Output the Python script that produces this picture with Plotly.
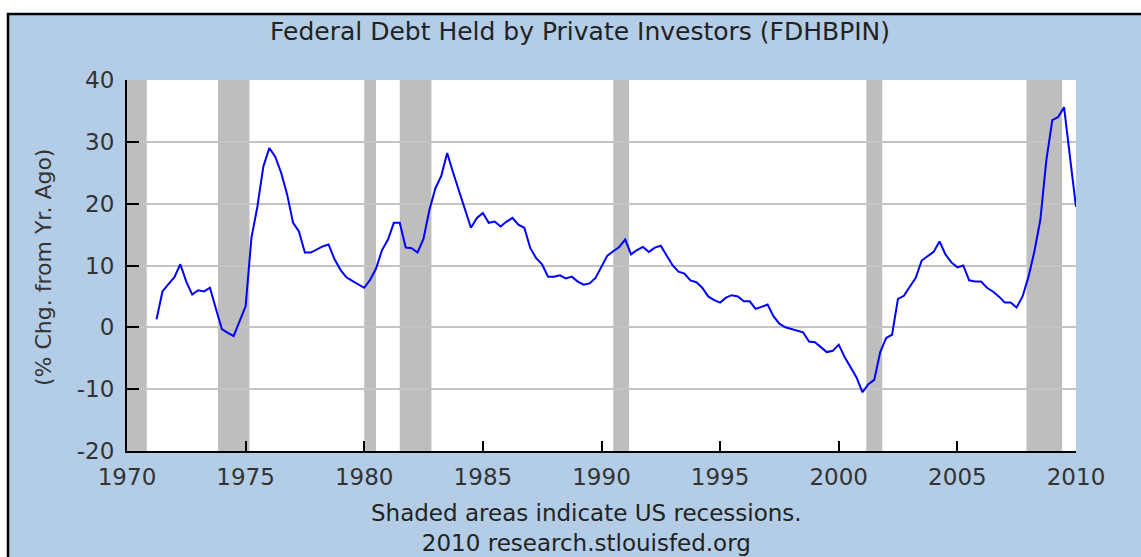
import pandas as pd
import plotly.graph_objects as go

# ---- data (quarterly, % change from a year ago) ----
start_quarter = "1971-04-01"
values = [
    1.3, 5.8, 7.0,
    8.1, 10.2, 7.4, 5.3,
    6.0, 5.8, 6.4, 3.0,
    -0.3, -0.9, -1.4, 1.0,
    3.4, 14.5, 19.5, 26.0,
    29.0, 27.6, 25.0, 21.5,
    16.9, 15.5, 12.1, 12.1,
    12.6, 13.1, 13.4, 11.0,
    9.3, 8.1, 7.5, 6.9,
    6.4, 7.7, 9.5, 12.5,
    14.2, 16.9, 16.9, 12.9,
    12.8, 12.1, 14.3, 19.0,
    22.5, 24.5, 28.2, 25.0,
    22.0, 18.7, 16.1, 17.7,
    18.5, 16.9, 17.1, 16.3,
    17.1, 17.7, 16.6, 16.1,
    12.8, 11.2, 10.2, 8.2,
    8.2, 8.4, 7.9, 8.2,
    7.4, 6.9, 7.1, 8.0,
    9.8, 11.6, 12.3, 13.0,
    14.2, 11.8, 12.5, 13.0,
    12.2, 12.9, 13.2, 11.5,
    10.0, 9.0, 8.7, 7.6,
    7.3, 6.4, 5.0, 4.4,
    4.0, 4.8, 5.2, 5.0,
    4.2, 4.2, 3.0, 3.3,
    3.7, 1.8, 0.6, 0.0,
    -0.3, -0.5, -0.8, -2.3,
    -2.4, -3.2, -4.0, -3.8,
    -2.8, -4.8, -6.5, -8.1,
    -10.5, -9.2, -8.5, -4.0,
    -1.7, -1.2, 4.6, 5.1,
    6.6, 8.0, 10.8, 11.5,
    12.2, 13.9, 11.8, 10.5,
    9.7, 10.0, 7.6, 7.4,
    7.4, 6.4, 5.8, 5.0,
    4.0, 4.0, 3.2, 5.0,
    8.2, 12.3, 17.4, 27.0,
    33.5, 34.0, 35.6, 27.5,
    19.5,
]
dates = pd.date_range(start_quarter, periods=len(values), freq="QS")

recession_starts = ["1969-12-01", "1973-11-01", "1980-01-01", "1981-07-01",
                    "1990-07-01", "2001-03-01", "2007-12-01"]
recession_ends = ["1970-11-01", "1975-03-01", "1980-07-01", "1982-11-01",
                  "1991-03-01", "2001-11-01", "2009-06-01"]

x_range = ["1970-01-01", "2010-01-01"]
y_range = [-20, 40]
y_ticks = [-20, -10, 0, 10, 20, 30, 40]
y_tick_labels = ["-20", "-10", "0", "10", "20", "30", "40"]
x_tick_years = [1970, 1975, 1980, 1985, 1990, 1995, 2000, 2005, 2010]

title_text = "Federal Debt Held by Private Investors (FDHBPIN)"
y_title_text = "(% Chg. from Yr. Ago)"
note_lines = ["Shaded areas indicate US recessions.", "2010 research.stlouisfed.org"]

# ---- layout geometry (page pixels; body margin removed below) ----
W, H = 1141, 557
L, R, T, B = 127, 1076, 80, 451
BG = "#B4CDE6"
FONT = "DejaVu Sans"


def px_x(p):
    return (p - L) / (R - L)


def px_y(p):
    return (B - p) / (B - T)


fig = go.Figure()
fig.add_trace(go.Scatter(
    x=dates, y=values, mode="lines",
    line=dict(color="#0000FF", width=2),
    hoverinfo="x+y", showlegend=False,
))

shapes = []
for s, e in zip(recession_starts, recession_ends):
    shapes.append(dict(type="rect", xref="x", yref="paper", x0=s, x1=e, y0=0, y1=1,
                       fillcolor="#BEBEBE", line=dict(width=0), layer="between"))
# white strips outside the chart frame
shapes.append(dict(type="rect", xref="paper", yref="paper",
                   x0=px_x(-5), x1=px_x(W + 5), y0=px_y(13), y1=px_y(-5),
                   fillcolor="white", line=dict(width=0), layer="below"))
shapes.append(dict(type="rect", xref="paper", yref="paper",
                   x0=px_x(-5), x1=px_x(7), y0=px_y(H + 5), y1=px_y(-5),
                   fillcolor="white", line=dict(width=0), layer="below"))
# black frame lines
shapes.append(dict(type="line", xref="paper", yref="paper",
                   x0=px_x(7), x1=px_x(W + 5), y0=px_y(14), y1=px_y(14),
                   line=dict(color="black", width=2.5)))
shapes.append(dict(type="line", xref="paper", yref="paper",
                   x0=px_x(8), x1=px_x(8), y0=px_y(13), y1=px_y(H + 5),
                   line=dict(color="black", width=2.5)))

annotations = [
    dict(text=title_text, xref="paper", yref="paper", x=px_x(580), y=px_y(31),
         xanchor="center", yanchor="middle", showarrow=False,
         font=dict(family=FONT, size=25, color="#222222")),
    dict(text=y_title_text, xref="paper", yref="paper", x=px_x(43), y=px_y(268),
         xanchor="center", yanchor="middle", showarrow=False, textangle=-90,
         font=dict(family=FONT, size=22, color="#333333")),
    dict(text="<br>".join(note_lines), xref="paper", yref="paper",
         x=px_x(586), y=px_y(528), xanchor="center", yanchor="middle",
         align="center", showarrow=False,
         font=dict(family=FONT, size=23, color="#222222")),
]

fig.update_layout(
    width=W, height=H,
    margin=dict(l=L, r=W - R, t=T, b=H - B, pad=0),
    paper_bgcolor=BG, plot_bgcolor="white",
    shapes=shapes, annotations=annotations,
    font=dict(family=FONT, size=23, color="#333333"),
    xaxis=dict(
        type="date", range=x_range,
        tickvals=[f"{y}-01-01" for y in x_tick_years],
        ticktext=[str(y) for y in x_tick_years],
        ticks="inside", ticklen=10, tickwidth=2, tickcolor="black",
        showline=True, linecolor="black", linewidth=2,
        showgrid=False, zeroline=False, mirror=False,
        tickfont=dict(family=FONT, size=23, color="#333333"),
        ticklabelstandoff=4,
    ),
    yaxis=dict(
        range=y_range, tickvals=y_ticks, ticktext=y_tick_labels,
        ticks="inside", ticklen=12, tickwidth=2, tickcolor="black",
        showline=True, linecolor="black", linewidth=2,
        showgrid=True, gridcolor="#C4C4C4", gridwidth=2,
        zeroline=False,
        tickfont=dict(family=FONT, size=23, color="#333333"),
        ticklabelstandoff=6,
    ),
)

fig.write_html(
    "out.html",
    config={"displayModeBar": False},
    post_script="document.body.style.margin='0';document.body.style.overflow='hidden';",
)
